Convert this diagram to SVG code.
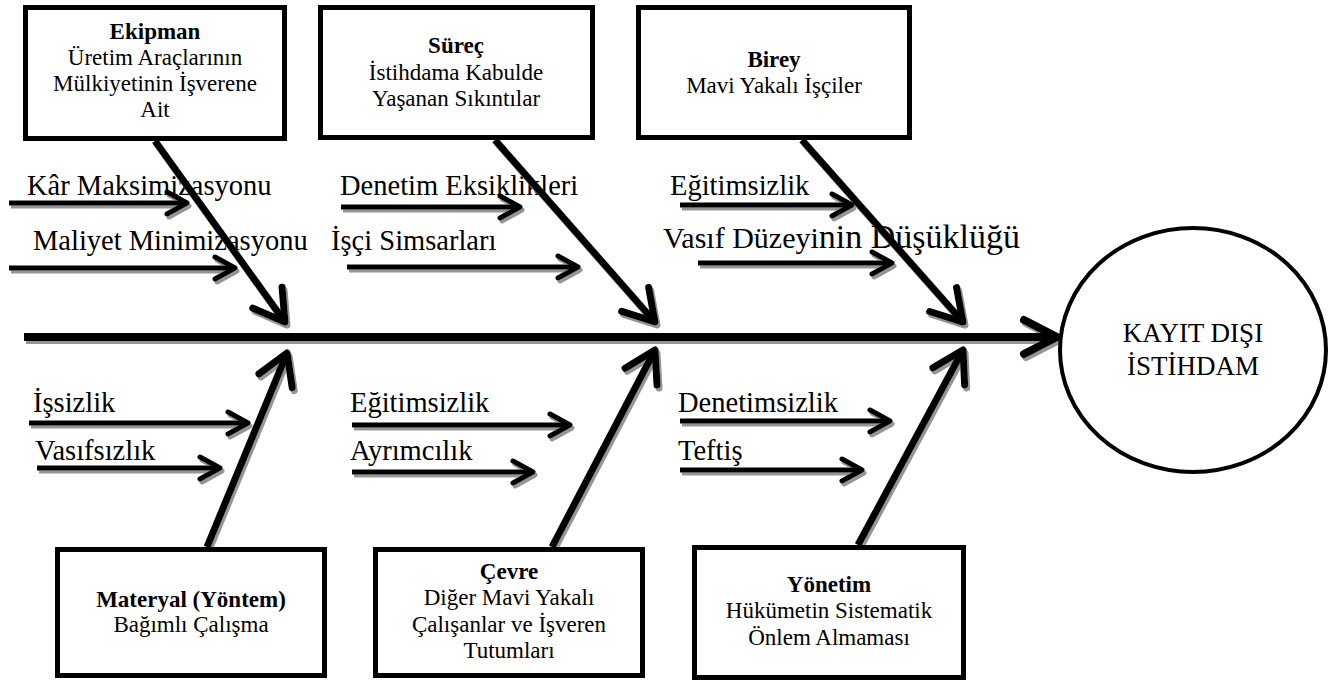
<svg xmlns="http://www.w3.org/2000/svg" width="1336" height="682" viewBox="0 0 1336 682">
<style>
text{font-family:"Liberation Serif","Times New Roman",serif;fill:#000}
.bt{font-size:23px;text-anchor:middle}
.b{font-weight:bold}
.lb{font-size:28.5px}
.ct{font-size:27px;text-anchor:middle}
.box{fill:#fff;stroke:#000;stroke-width:5}
.big{stroke:#000;stroke-width:7;fill:none;marker-end:url(#ah)}
.sp{stroke:#000;stroke-width:8;fill:none;marker-end:url(#asp)}
.sm{stroke:#000;stroke-width:5;fill:none;marker-end:url(#as)}
</style>
<defs>
<filter id="sh" filterUnits="userSpaceOnUse" x="0" y="0" width="1336" height="682">
<feDropShadow dx="2" dy="3" stdDeviation="0.7" flood-color="#7a7a7a" flood-opacity="0.8"/>
</filter>
<marker id="ah" markerUnits="userSpaceOnUse" orient="auto" overflow="visible" markerWidth="1" markerHeight="1" refX="0" refY="0">
<path d="M-27,-18 L3,0 L-27,18" fill="none" stroke="#000" stroke-width="7" stroke-linejoin="round" stroke-linecap="round"/>
</marker>
<marker id="asp" markerUnits="userSpaceOnUse" orient="auto" overflow="visible" markerWidth="1" markerHeight="1" refX="0" refY="0">
<path d="M-30,-17 L3,0 L-30,17" fill="none" stroke="#000" stroke-width="8" stroke-linejoin="round" stroke-linecap="round"/>
</marker>
<marker id="as" markerUnits="userSpaceOnUse" orient="auto" overflow="visible" markerWidth="1" markerHeight="1" refX="0" refY="0">
<path d="M-18,-11 L2,0 L-18,11" fill="none" stroke="#000" stroke-width="5" stroke-linejoin="round" stroke-linecap="round"/>
</marker>
</defs>
<rect width="1336" height="682" fill="#fff"/>

<g id="cause-labels">
<text class="lb" x="27" y="195">Kâr Maksimizasyonu</text>
<text class="lb" x="33" y="250">Maliyet Minimizasyonu</text>
<text class="lb" x="340" y="195">Denetim Eksiklikleri</text>
<text class="lb" x="331" y="250">İşçi Simsarları</text>
<text class="lb" x="670" y="195">Eğitimsizlik</text>
<text x="663" y="248"><tspan font-size="30px">Vasıf Düzeyi</tspan><tspan font-size="34px">nin Düşüklüğü</tspan></text>
<text class="lb" x="33" y="412">İşsizlik</text>
<text class="lb" x="35" y="460">Vasıfsızlık</text>
<text class="lb" x="350" y="412">Eğitimsizlik</text>
<text class="lb" x="350" y="460">Ayrımcılık</text>
<text class="lb" x="678" y="412">Denetimsizlik</text>
<text class="lb" x="678" y="460">Teftiş</text>
</g>

<g id="connectors" filter="url(#sh)">
<path class="sp" d="M24,337 L1054,337"/>
<path class="big" d="M155,141 L283.2,319.6"/>
<path class="big" d="M495,140 L653,319.7"/>
<path class="big" d="M802,140 L961,319.8"/>
<path class="big" d="M207,547 L285.9,355.8"/>
<path class="big" d="M552,547 L653.6,352.7"/>
<path class="big" d="M858,545 L961.6,352.6"/>
<path class="sm" d="M9,203 L185,203"/>
<path class="sm" d="M9,268 L233,268"/>
<path class="sm" d="M341,207 L518,207"/>
<path class="sm" d="M347,267 L576,267"/>
<path class="sm" d="M680,205 L850,205"/>
<path class="sm" d="M698,263 L890,263"/>
<path class="sm" d="M29,423 L246,423"/>
<path class="sm" d="M37,468 L218,468"/>
<path class="sm" d="M352,425 L568,425"/>
<path class="sm" d="M352,472 L531,472"/>
<path class="sm" d="M680,421 L888,421"/>
<path class="sm" d="M680,470 L860,470"/>
</g>

<g id="node-ekipman">
<rect class="box" x="25.5" y="7.5" width="259" height="131"/>
<text class="bt b" x="155" y="39">Ekipman</text>
<text class="bt" x="155" y="65">Üretim Araçlarının</text>
<text class="bt" x="155" y="91">Mülkiyetinin İşverene</text>
<text class="bt" x="155" y="117">Ait</text>
</g>
<g id="node-surec">
<rect class="box" x="320.5" y="7.5" width="272" height="130"/>
<text class="bt b" x="456" y="53">Süreç</text>
<text class="bt" x="456" y="80">İstihdama Kabulde</text>
<text class="bt" x="456" y="106">Yaşanan Sıkıntılar</text>
</g>
<g id="node-birey">
<rect class="box" x="638.5" y="7.5" width="271" height="130"/>
<text class="bt b" x="774" y="67">Birey</text>
<text class="bt" x="774" y="93">Mavi Yakalı İşçiler</text>
</g>
<g id="node-materyal">
<rect class="box" x="57.5" y="549.5" width="267" height="126"/>
<text class="bt b" x="191" y="607">Materyal (Yöntem)</text>
<text class="bt" x="191" y="632">Bağımlı Çalışma</text>
</g>
<g id="node-cevre">
<rect class="box" x="375.5" y="549.5" width="267" height="126"/>
<text class="bt b" x="509" y="579">Çevre</text>
<text class="bt" x="509" y="605">Diğer Mavi Yakalı</text>
<text class="bt" x="509" y="632">Çalışanlar ve İşveren</text>
<text class="bt" x="509" y="658">Tutumları</text>
</g>
<g id="node-yonetim">
<rect class="box" x="694.5" y="547.5" width="269" height="130"/>
<text class="bt b" x="829" y="592">Yönetim</text>
<text class="bt" x="829" y="618">Hükümetin Sistematik</text>
<text class="bt" x="829" y="645">Önlem Almaması</text>
</g>
<g id="node-kayit-disi">
<ellipse cx="1193" cy="350" rx="133" ry="122" fill="#fff" stroke="#000" stroke-width="4"/>
<text class="ct" x="1193" y="342">KAYIT DIŞI</text>
<text class="ct" x="1193" y="375">İSTİHDAM</text>
</g>
</svg>
